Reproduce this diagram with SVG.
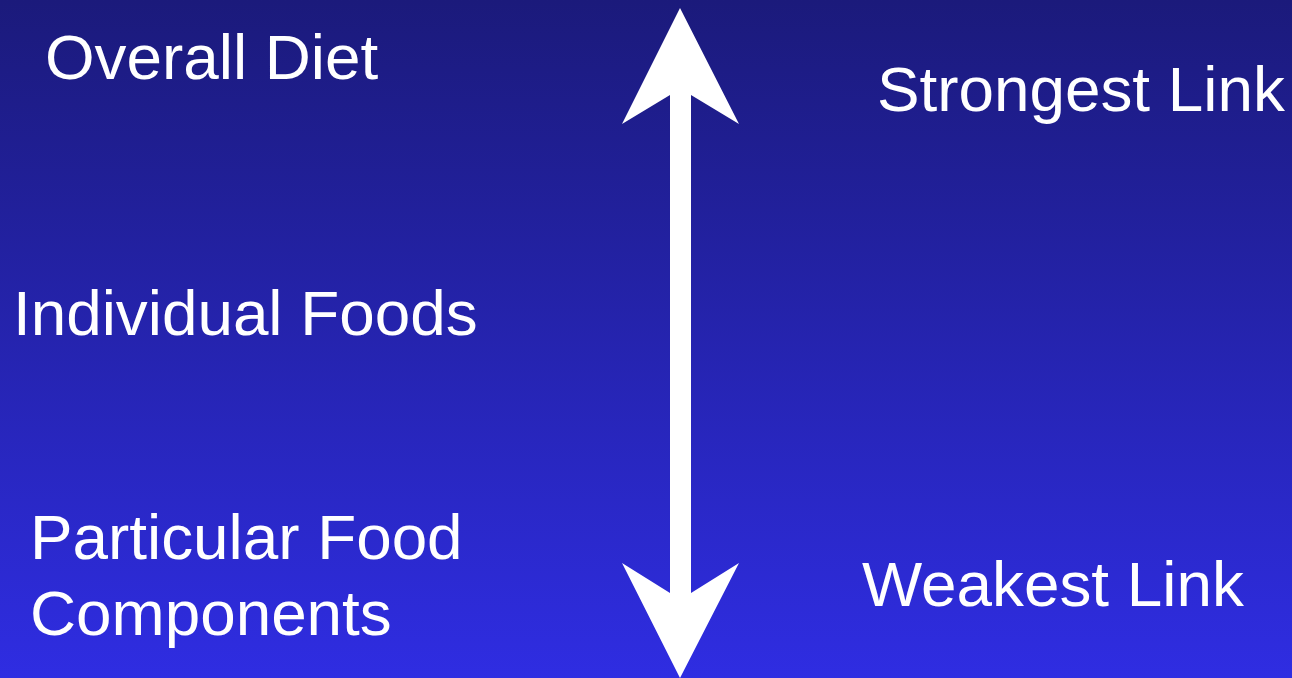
<svg xmlns="http://www.w3.org/2000/svg" width="1292" height="678" viewBox="0 0 1292 678">
<defs>
<linearGradient id="bg" x1="0" y1="0" x2="0" y2="1">
<stop offset="0" stop-color="#1b1a7b"/>
<stop offset="1" stop-color="#2f2de2"/>
</linearGradient>
<style>
text{font-family:"Liberation Sans",Arial,sans-serif;fill:#ffffff;font-size:63.8px}
</style>
</defs>
<rect width="1292" height="678" fill="url(#bg)"/>
<g id="connectors">
<polygon fill="#ffffff" points="680,8 739,124 691,95 691,593 739,563 680,678 622,563 670,593 670,95 622,124"/>
</g>
<g id="overall-diet"><text x="45" y="79">Overall Diet</text></g>
<g id="individual-foods"><text x="13" y="335">Individual Foods</text></g>
<g id="particular-food"><text x="30" y="559">Particular Food</text><text x="30" y="635">Components</text></g>
<g id="strongest-link"><text x="877" y="111">Strongest Link</text></g>
<g id="weakest-link"><text x="862" y="606">Weakest Link</text></g>
</svg>
